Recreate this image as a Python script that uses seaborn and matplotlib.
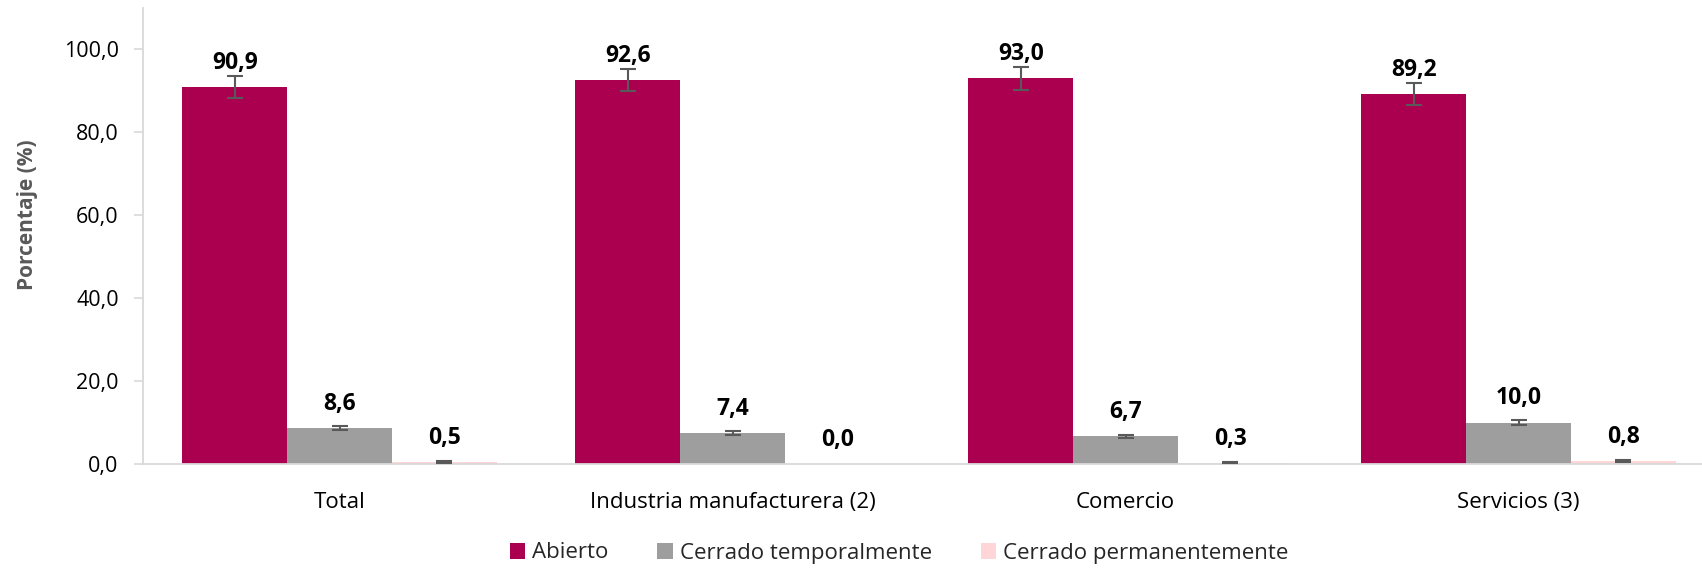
import numpy as np
import pandas as pd
import matplotlib
matplotlib.use("Agg")
import matplotlib.pyplot as plt
import seaborn as sns
from matplotlib.ticker import FuncFormatter

categories = ["Total", "Industria manufacturera (2)", "Comercio", "Servicios (3)"]
series = ["Abierto", "Cerrado temporalmente", "Cerrado permanentemente"]
abierto = [90.9, 92.6, 93.0, 89.2]
cerrado_temp = [8.6, 7.4, 6.7, 10.0]
cerrado_perm = [0.5, 0.0, 0.3, 0.8]
err_abierto = [2.7, 2.7, 2.7, 2.7]
err_temp = [0.5, 0.5, 0.4, 0.6]
err_perm = [0.15, 0.0, 0.15, 0.2]
colors = ["#AB0050", "#9E9E9E", "#FFD5D8"]

values = [abierto, cerrado_temp, cerrado_perm]
errors = [err_abierto, err_temp, err_perm]
rows = []
for s, vals, errs in zip(series, values, errors):
    for c, v, e in zip(categories, vals, errs):
        rows.append({"Categoria": c, "Estado": s, "Valor": v, "Err": e})
df = pd.DataFrame(rows)

sns.set_theme(style="white")
plt.rcParams["font.family"] = ["Open Sans", "DejaVu Sans"]

fig = plt.figure(figsize=(17.02, 5.68), dpi=100)
ax = fig.add_axes([143 / 1702, 104 / 568, 1572 / 1702, 456 / 568])

sns.barplot(data=df, x="Categoria", y="Valor", hue="Estado", order=categories,
            hue_order=series, palette=colors, errorbar=None, width=0.8,
            linewidth=0, saturation=1, ax=ax)

# error bars and labels at the bar centers computed by seaborn
for cont, s in zip(ax.containers, series):
    sub = df[df["Estado"] == s].set_index("Categoria").loc[categories]
    xs = np.array([p.get_x() + p.get_width() / 2 for p in cont.patches])
    hs = np.array([p.get_height() for p in cont.patches])
    errs = sub["Err"].values
    m = errs > 0
    ax.errorbar(xs[m], hs[m], yerr=errs[m], fmt="none", ecolor="#595959",
                elinewidth=1.5, capsize=6, capthick=1.5, zorder=3)
    for x, h in zip(xs, hs):
        ax.annotate(f"{h:.1f}".replace(".", ","), (x, h), xytext=(0, 13),
                    textcoords="offset points", ha="center", va="baseline",
                    fontsize=16.5, fontweight="bold", color="black")

ax.set_ylim(0, 110)
ax.set_xlim(-0.5, 3.5)
ax.set_yticks([0, 20, 40, 60, 80, 100])
ax.yaxis.set_major_formatter(FuncFormatter(lambda v, p: f"{v:.1f}".replace(".", ",")))
ax.tick_params(axis="y", labelsize=15.5, length=6.5, width=1.2, color="#D9D9D9",
               pad=11, labelcolor="black", left=True)
ax.tick_params(axis="x", labelsize=16, length=0, pad=20, labelcolor="black")
ax.set_xlabel("")
ax.set_ylabel("Porcentaje (%)", fontsize=15, fontweight="bold", color="#595959")
ax.yaxis.set_label_coords(-0.067, 0.546)

for side in ["top", "right"]:
    ax.spines[side].set_visible(False)
for side in ["left", "bottom"]:
    ax.spines[side].set_color("#D9D9D9")
    ax.spines[side].set_linewidth(1.3)

leg = ax.legend(loc="center", bbox_to_anchor=(899 / 1702, 15 / 568),
                bbox_transform=fig.transFigure, ncol=3, frameon=False,
                fontsize=16, handlelength=0.7, handleheight=0.7,
                handletextpad=0.3, columnspacing=2.2)

fig.savefig("out.png", dpi=100)
